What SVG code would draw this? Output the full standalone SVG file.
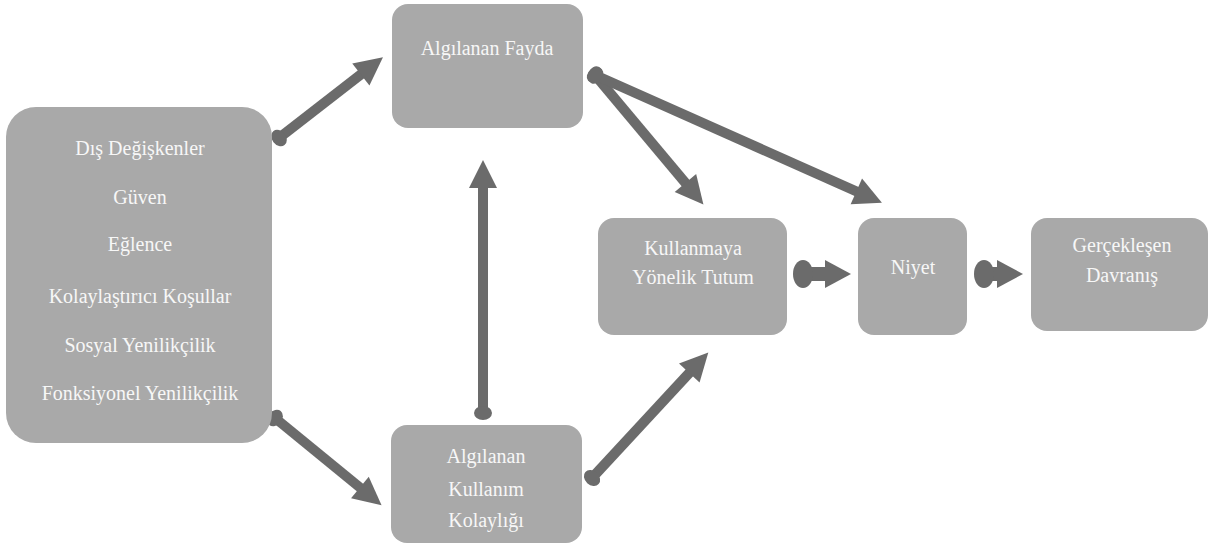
<svg xmlns="http://www.w3.org/2000/svg" width="1213" height="547" viewBox="0 0 1213 547">
  <style>
    .box { fill: #a9a9a9; }
    .lbl { font-family: "Liberation Serif", "DejaVu Serif", "Times New Roman", Times, serif; font-size: 20px; fill: #f7f7f7; text-anchor: middle; }
    .arr { stroke: #6b6b6b; stroke-width: 10; fill: none; marker-start: url(#tail); marker-end: url(#head); }
    .arrB { stroke: #6b6b6b; stroke-width: 14; fill: none; marker-start: url(#tailB); marker-end: url(#headB); }
  </style>
  <defs>
    <marker id="head" markerUnits="userSpaceOnUse" markerWidth="40" markerHeight="40" refX="4" refY="0" orient="auto" overflow="visible" viewBox="-20 -20 40 40">
      <path d="M0,-14 L28,0 L0,14 Z" fill="#6b6b6b"/>
    </marker>
    <marker id="tail" markerUnits="userSpaceOnUse" markerWidth="40" markerHeight="40" refX="0" refY="0" orient="auto" overflow="visible" viewBox="-20 -20 40 40">
      <ellipse cx="0" cy="0" rx="7" ry="9" fill="#6b6b6b"/>
    </marker>
    <marker id="headB" markerUnits="userSpaceOnUse" markerWidth="40" markerHeight="40" refX="2" refY="0" orient="auto" overflow="visible" viewBox="-20 -20 40 40">
      <path d="M0,-14 L26,0 L0,14 Z" fill="#6b6b6b"/>
    </marker>
    <marker id="tailB" markerUnits="userSpaceOnUse" markerWidth="40" markerHeight="40" refX="0" refY="0" orient="auto" overflow="visible" viewBox="-20 -20 40 40">
      <ellipse cx="0" cy="0" rx="10" ry="14" fill="#6b6b6b"/>
    </marker>
  </defs>
  <rect width="1213" height="547" fill="#ffffff"/>

  <g id="connectors">
    <line class="arr" x1="279" y1="138" x2="364" y2="72"/>
    <line class="arr" x1="275" y1="418" x2="363" y2="490"/>
    <line class="arr" x1="483" y1="413" x2="483" y2="184"/>
    <line class="arr" x1="595" y1="75" x2="688" y2="186"/>
    <line class="arr" x1="595" y1="75" x2="860" y2="193"/>
    <line class="arr" x1="592" y1="478" x2="692" y2="370"/>
    <line class="arrB" x1="803" y1="274" x2="827" y2="274"/>
    <line class="arrB" x1="984" y1="274" x2="999" y2="274"/>
  </g>

  <g id="node-dis">
    <rect class="box" x="6" y="107" width="266" height="336" rx="30"/>
    <text class="lbl" x="140" y="155">Dış Değişkenler</text>
    <text class="lbl" x="140" y="204">Güven</text>
    <text class="lbl" x="140" y="251">Eğlence</text>
    <text class="lbl" x="140" y="303">Kolaylaştırıcı Koşullar</text>
    <text class="lbl" x="140" y="352">Sosyal Yenilikçilik</text>
    <text class="lbl" x="140" y="400">Fonksiyonel Yenilikçilik</text>
  </g>

  <g id="node-fayda">
    <rect class="box" x="392" y="4" width="191" height="124" rx="16"/>
    <text class="lbl" x="487" y="55">Algılanan Fayda</text>
  </g>

  <g id="node-kolaylik">
    <rect class="box" x="391" y="425" width="191" height="118" rx="16"/>
    <text class="lbl" x="486" y="463">Algılanan</text>
    <text class="lbl" x="486" y="496">Kullanım</text>
    <text class="lbl" x="486" y="527">Kolaylığı</text>
  </g>

  <g id="node-tutum">
    <rect class="box" x="598" y="218" width="189" height="117" rx="16"/>
    <text class="lbl" x="693" y="255">Kullanmaya</text>
    <text class="lbl" x="693" y="284">Yönelik Tutum</text>
  </g>

  <g id="node-niyet">
    <rect class="box" x="858" y="218" width="109" height="117" rx="16"/>
    <text class="lbl" x="913" y="274">Niyet</text>
  </g>

  <g id="node-davranis">
    <rect class="box" x="1031" y="218" width="177" height="113" rx="16"/>
    <text class="lbl" x="1122" y="252">Gerçekleşen</text>
    <text class="lbl" x="1122" y="282">Davranış</text>
  </g>
</svg>
